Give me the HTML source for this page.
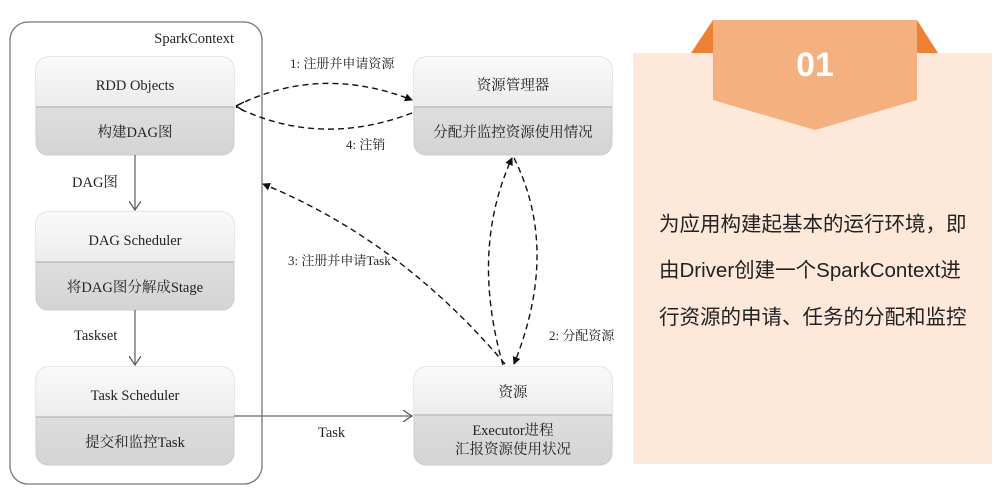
<!DOCTYPE html>
<html><head><meta charset="utf-8"><style>
body{margin:0;width:998px;height:501px;background:#fff;overflow:hidden}
svg{display:block}
.t{font-family:"Liberation Serif","Noto Serif CJK SC",serif;font-size:14.5px;fill:#222}
.s{font-size:13px}
</style></head><body>
<svg width="998" height="501" viewBox="0 0 998 501">
<defs>
<linearGradient id="g1" x1="0" y1="0" x2="0" y2="1"><stop offset="0" stop-color="#fafafa"/><stop offset="1" stop-color="#ececec"/></linearGradient>
<linearGradient id="g2" x1="0" y1="0" x2="0" y2="1"><stop offset="0" stop-color="#e8e8e8"/><stop offset="1" stop-color="#d4d4d4"/></linearGradient>
<marker id="ah" markerWidth="8" markerHeight="8" refX="7" refY="4" orient="auto" markerUnits="userSpaceOnUse"><path d="M0,0 L8,4 L0,8 z" fill="#111"/></marker>
<marker id="op" markerWidth="10" markerHeight="12" refX="9" refY="6" orient="auto" markerUnits="userSpaceOnUse"><path d="M0,0 L9,6 L0,12" fill="none" stroke="#555" stroke-width="1.2"/></marker>
</defs>
<rect x="10" y="22" width="252" height="462" rx="18" fill="#fff" stroke="#777" stroke-width="1.3"/>
<text class="t" x="234" y="43" text-anchor="end">SparkContext</text>
<g>
<rect x="36" y="57" width="198" height="98" rx="12" fill="url(#g2)" stroke="#ccc"/>
<path d="M36,107 V69 a12,12 0 0 1 12,-12 H222 a12,12 0 0 1 12,12 V107 z" fill="url(#g1)"/>
<line x1="36" y1="107" x2="234" y2="107" stroke="#aaa"/>
<text class="t" x="135" y="90" text-anchor="middle">RDD Objects</text>
<text class="t" x="135" y="137" text-anchor="middle">构建DAG图</text>
</g>
<g>
<rect x="36" y="212" width="198" height="98" rx="12" fill="url(#g2)" stroke="#ccc"/>
<path d="M36,262 V224 a12,12 0 0 1 12,-12 H222 a12,12 0 0 1 12,12 V262 z" fill="url(#g1)"/>
<line x1="36" y1="262" x2="234" y2="262" stroke="#aaa"/>
<text class="t" x="135" y="245" text-anchor="middle">DAG Scheduler</text>
<text class="t" x="135" y="292" text-anchor="middle">将DAG图分解成Stage</text>
</g>
<g>
<rect x="36" y="367" width="198" height="98" rx="12" fill="url(#g2)" stroke="#ccc"/>
<path d="M36,417 V379 a12,12 0 0 1 12,-12 H222 a12,12 0 0 1 12,12 V417 z" fill="url(#g1)"/>
<line x1="36" y1="417" x2="234" y2="417" stroke="#aaa"/>
<text class="t" x="135" y="400" text-anchor="middle">Task Scheduler</text>
<text class="t" x="135" y="447" text-anchor="middle">提交和监控Task</text>
</g>
<g>
<rect x="414" y="57" width="198" height="98" rx="12" fill="url(#g2)" stroke="#ccc"/>
<path d="M414,107 V69 a12,12 0 0 1 12,-12 H600 a12,12 0 0 1 12,12 V107 z" fill="url(#g1)"/>
<line x1="414" y1="107" x2="612" y2="107" stroke="#aaa"/>
<text class="t" x="513" y="90" text-anchor="middle">资源管理器</text>
<text class="t" x="513" y="137" text-anchor="middle">分配并监控资源使用情况</text>
</g>
<g>
<rect x="414" y="367" width="198" height="98" rx="12" fill="url(#g2)" stroke="#ccc"/>
<path d="M414,415 V379 a12,12 0 0 1 12,-12 H600 a12,12 0 0 1 12,12 V415 z" fill="url(#g1)"/>
<line x1="414" y1="415" x2="612" y2="415" stroke="#aaa"/>
<text class="t" x="513" y="397" text-anchor="middle">资源</text>
<text class="t" x="513" y="435" text-anchor="middle">Executor进程</text>
<text class="t" x="513" y="454" text-anchor="middle">汇报资源使用状况</text>
</g>
<line x1="135" y1="155" x2="135" y2="210" stroke="#666" stroke-width="1.3" marker-end="url(#op)"/>
<line x1="135" y1="310" x2="135" y2="365" stroke="#666" stroke-width="1.3" marker-end="url(#op)"/>
<line x1="234" y1="416" x2="412" y2="416" stroke="#666" stroke-width="1.3" marker-end="url(#op)"/>
<text class="t" x="72" y="187">DAG图</text>
<text class="t" x="74" y="340">Taskset</text>
<text class="t" x="318" y="437">Task</text>
<g fill="none" stroke="#111" stroke-width="1.4" stroke-dasharray="6,4">
<path d="M236,106 Q320,64 412,100" marker-end="url(#ah)"/>
<path d="M412,113 Q320,148 236,107"/>
<path d="M236,106 L244,102 M236,106 L244,111" stroke-dasharray="none"/>
<path d="M505,364 Q400,240 263,184" marker-end="url(#ah)"/>
<path d="M503,365 Q470,250 512,158" marker-end="url(#ah)"/>
<path d="M514,158 Q560,250 514,364" marker-end="url(#ah)"/>
</g>
<text class="t s" x="290" y="68">1: 注册并申请资源</text>
<text class="t s" x="346" y="149">4: 注销</text>
<text class="t s" x="288" y="265">3: 注册并申请Task</text>
<text class="t s" x="549" y="340">2: 分配资源</text>
<rect x="633" y="53" width="359" height="411" fill="#fde8da"/>
<polygon points="691,53 713,20 713,53" fill="#ee8035"/>
<polygon points="938,53 917,20 917,53" fill="#ee8035"/>
<polygon points="713,20 917,20 917,100 815,130 713,100" fill="#f5b07f"/>
<text x="815" y="76" text-anchor="middle" style="font-family:'Liberation Sans',sans-serif;font-weight:bold;font-size:34px;fill:#fff">01</text>
<g style="font-family:'Liberation Sans','Noto Sans CJK SC',sans-serif;font-size:20.5px;fill:#222">
<text x="659" y="231">为应用构建起基本的运行环境，即</text>
<text x="659" y="277">由Driver创建一个SparkContext进</text>
<text x="659" y="324">行资源的申请、任务的分配和监控</text>
</g>
</svg>
</body></html>
